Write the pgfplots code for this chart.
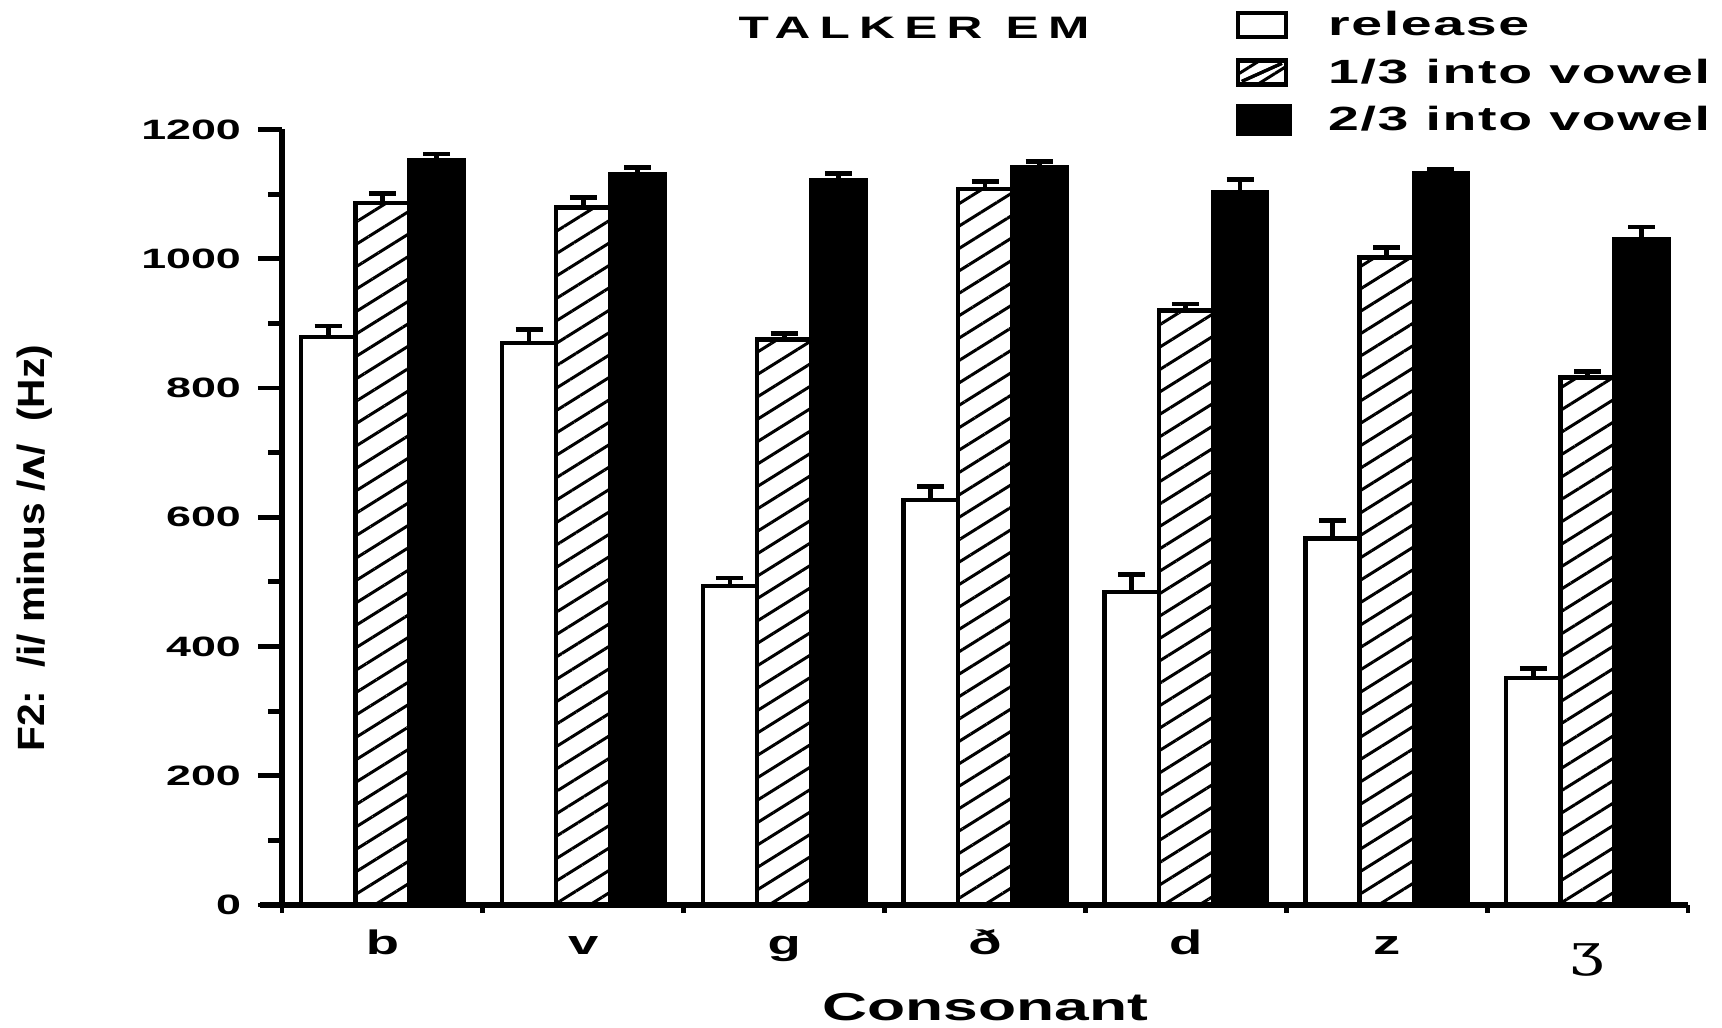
\documentclass[border=0pt]{standalone}
\usepackage{fontspec}
\setmainfont{Liberation Sans}[FakeStretch=1.6]
\newfontfamily\titlefont{Liberation Sans}[FakeStretch=1.6,LetterSpace=30]
\newfontfamily\legfont{Liberation Sans}[FakeStretch=1.65,LetterSpace=5]
\newfontfamily\ylabfont{Liberation Sans}[FakeStretch=1.07]
\newfontfamily\ipafont{DejaVu Sans}[FakeStretch=1.0]
\newfontfamily\ezhfont{DejaVu Serif}[FakeStretch=1.35]
\usepackage{pgfplots}
\pgfplotsset{compat=1.18}
\usepackage{pgfplotstable}
\usetikzlibrary{patterns.meta}

\pgfplotstableread{
x y e
0 879 17
1 870 20
2 494 12
3 627 21
4 484 28
5 567 28
6 351 15
}\release
\pgfplotstableread{
x y e
0 1086 15
1 1079 16
2 875 9
3 1108 12
4 920 10
5 1002 15
6 816 9
}\onethird
\pgfplotstableread{
x y e
0 1152 10
1 1131 10
2 1121 11
3 1142 8
4 1103 20
5 1133 6
6 1030 19
}\twothird

\begin{document}
\begin{tikzpicture}
\begin{axis}[
  scale only axis, width=703pt, height=387.75pt,
  xmin=-0.5, xmax=6.5, ymin=0, ymax=1200,
  clip=false,
  axis x line*=bottom, axis y line*=left,
  axis line style={line width=3pt, black},
  x axis line style={shorten <=-11pt},
  ybar, bar width=0.27,
  ytick={0,200,...,1200}, minor ytick={100,300,...,1100},
  tick align=outside,
  major tick length=12pt, minor tick length=7pt,
  tick style={line width=2.4pt, black},
  xtick={0,...,6},
  xticklabels={b,v,g,ð,d,z,{\raisebox{-6pt}{\ezhfont\mdseries\fontsize{22}{24}\selectfont ʒ}}},
  major x tick style={draw=none},
  /pgf/number format/assume math mode=true,
  /pgf/number format/1000 sep={},
  yticklabel style={font=\bfseries\fontsize{14}{16}\selectfont, xshift=-5pt},
  xticklabel style={font=\bfseries\fontsize{17}{19}\selectfont, text height=12pt, text depth=4pt, anchor=north, yshift=3pt},
  xlabel={Consonant},
  xlabel style={at={(axis description cs:0.5,-0.1315)}, anchor=center, inner sep=0pt, font=\bfseries\fontsize{19.5}{22}\selectfont},
  ylabel={\ylabfont\bfseries F2:\ \ /i/ minus /{\ipafont ʌ}/\ \ (Hz)},
  ylabel style={at={(axis description cs:-0.1757,0.46)}, anchor=center, inner sep=0pt, font=\bfseries\fontsize{19}{21}\selectfont},
  title={TALKER EM},
  title style={at={(axis description cs:0.4495,1.1155)}, anchor=center, inner sep=0pt, font=\titlefont\bfseries\fontsize{15.5}{17}\selectfont},
  legend style={draw=none, fill=none, at={(axis description cs:0.678,1.158)}, anchor=north west,
    inner sep=0pt, row sep=6pt, column sep=16pt,
    font=\legfont\bfseries\fontsize{16.8}{19.5}\selectfont},
  legend cell align=left,
]
\addplot[draw=black, fill=white, line width=2.2pt, bar shift=-0.27,
  legend image code/.code={\draw[draw=black,fill=white,line width=2.2pt] (0pt,-6pt) rectangle (24pt,6pt);},
  error bars/.cd, y dir=plus, y explicit,
  error bar style={line width=2.4pt, black},
  error mark options={rotate=90, mark size=6.75pt, line width=2.4pt, black}]
  table[x=x, y=y, y error=e]{\release};
\addlegendentry{release}
\addplot[draw=black, fill=white, line width=2.2pt, bar shift=0,
  postaction={pattern={Lines[angle=32, distance=9.5pt, line width=1.5pt]}, pattern color=black},
  legend image code/.code={\draw[draw=black,fill=white,line width=2.2pt] (0pt,-6pt) rectangle (24pt,6pt);
    \draw[line width=1.6pt] (2pt,-4.5pt) -- (22pt,4.5pt);},
  error bars/.cd, y dir=plus, y explicit,
  error bar style={line width=2.4pt, black},
  error mark options={rotate=90, mark size=6.75pt, line width=2.4pt, black}]
  table[x=x, y=y, y error=e]{\onethird};
\addlegendentry{1/3 into vowel}
\addplot[draw=black, fill=black, line width=2.2pt, bar shift=0.27,
  legend image code/.code={\draw[draw=black,fill=black,line width=2.2pt] (0pt,-7pt) rectangle (26pt,7pt);},
  error bars/.cd, y dir=plus, y explicit,
  error bar style={line width=2.4pt, black},
  error mark options={rotate=90, mark size=6.75pt, line width=2.4pt, black}]
  table[x=x, y=y, y error=e]{\twothird};
\addlegendentry{2/3 into vowel}
\end{axis}
\begin{axis}[
  scale only axis, width=703pt, height=387.75pt,
  xmin=-0.5, xmax=6.5, ymin=0, ymax=1200,
  axis x line*=bottom, hide y axis,
  axis line style={line width=3pt, black, shorten <=-11pt},
  xtick={-0.5,0.5,...,6.5}, xticklabels={},
  tick align=outside, major tick length=4pt,
  tick style={line width=2.4pt, black},
]
\end{axis}
\path (-141pt,-61pt) rectangle (720pt,452.5pt);
\end{tikzpicture}
\end{document}
